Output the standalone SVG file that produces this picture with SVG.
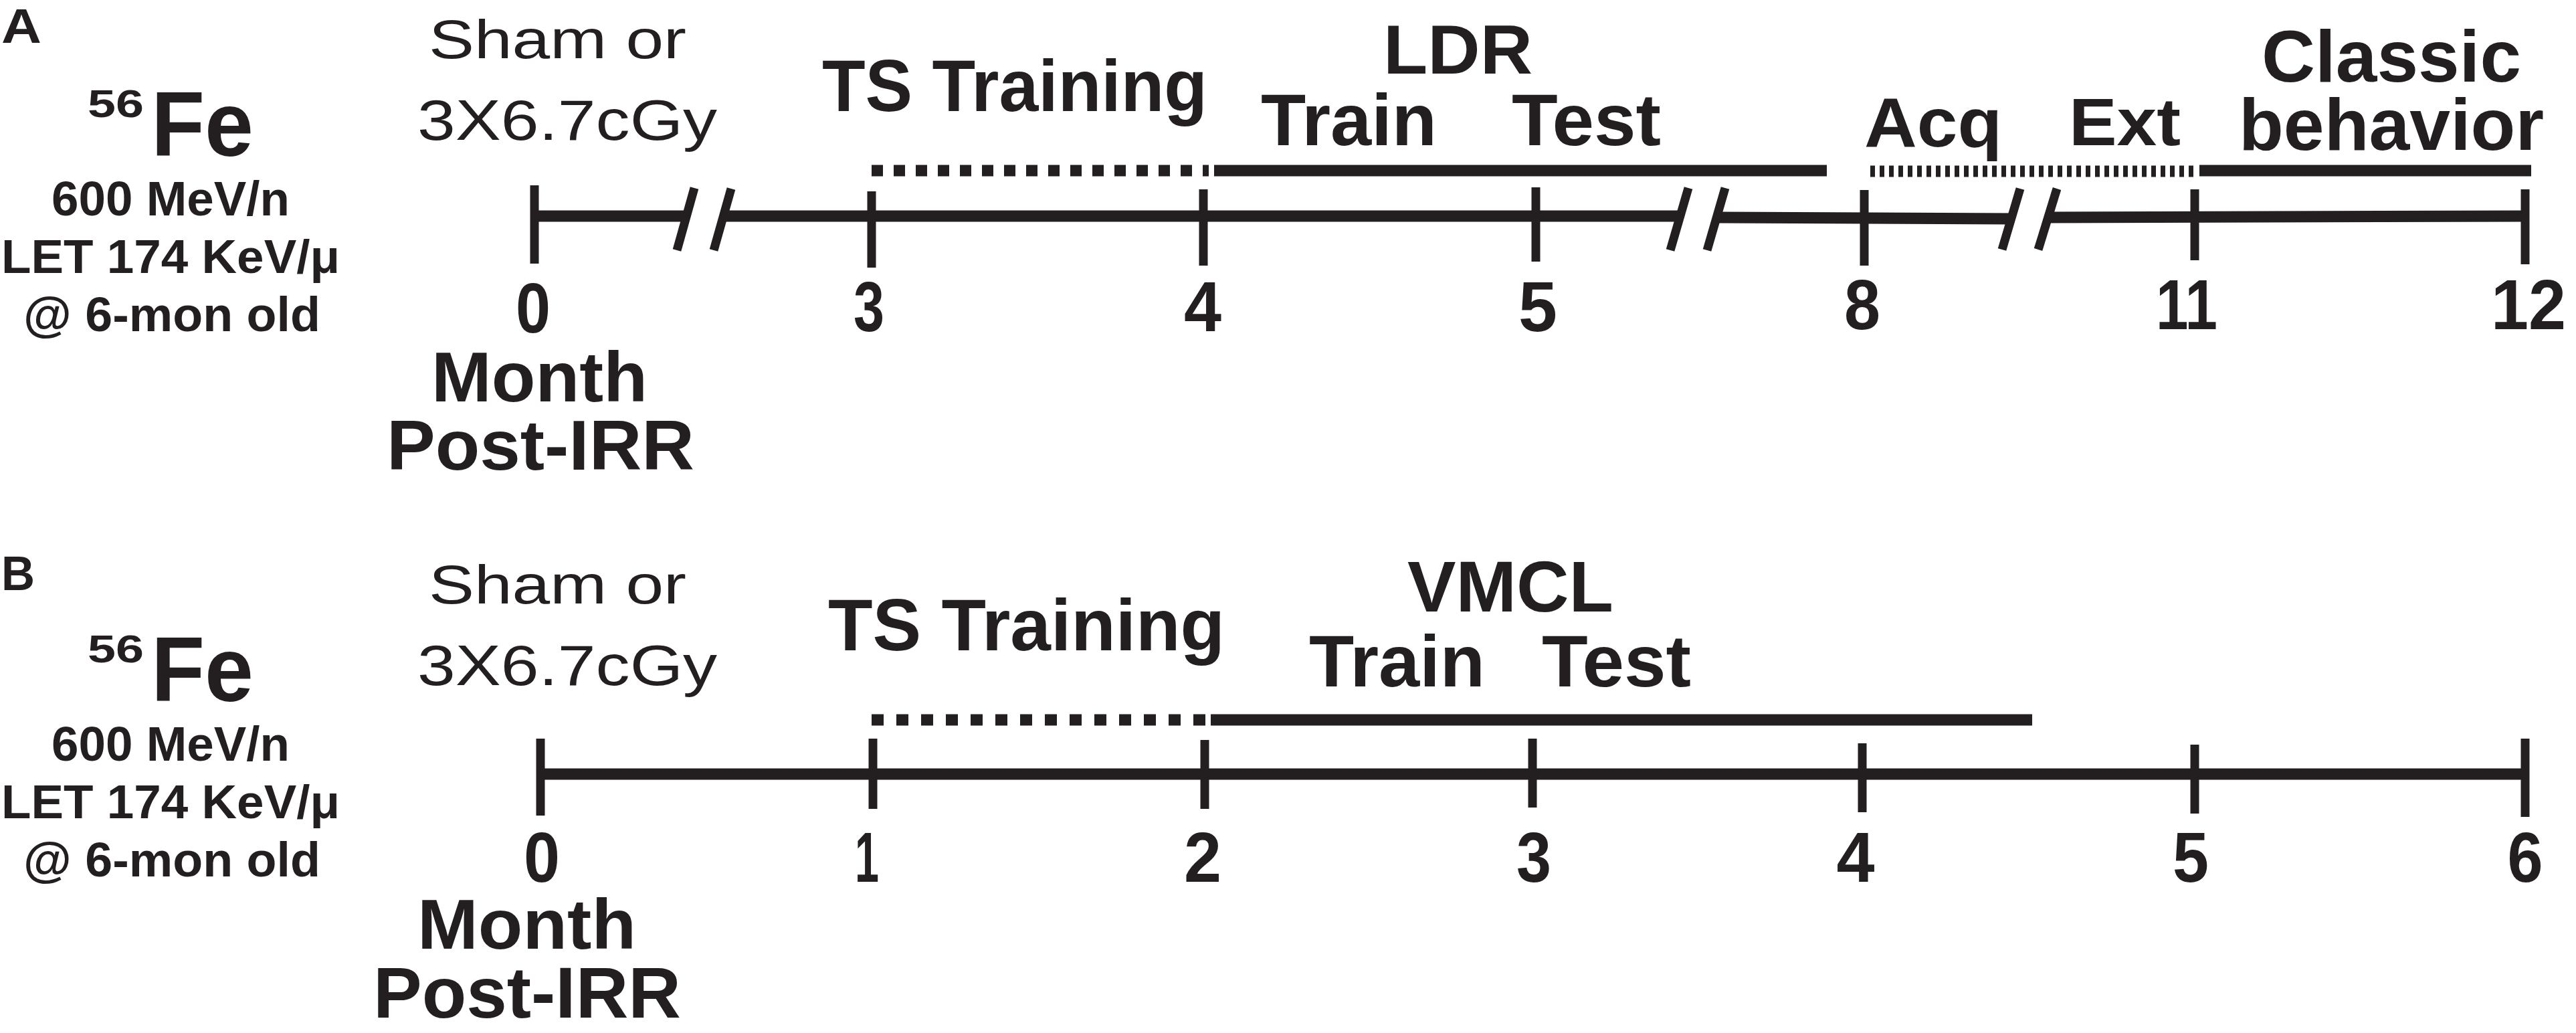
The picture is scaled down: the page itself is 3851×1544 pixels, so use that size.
<svg xmlns="http://www.w3.org/2000/svg" width="3851" height="1544" viewBox="0 0 3851 1544">
<style>
text{font-family:"Liberation Sans",Arial,Helvetica,sans-serif;font-weight:bold;fill:#231f20}
.n{font-weight:normal}
.m{text-anchor:middle}
line{stroke:#231f20;fill:none;stroke-linecap:butt}
.ax{stroke-width:17}
.tk{stroke-width:13}
.sl{stroke-width:13}
.bar{stroke-width:17}
.dA{stroke-dasharray:17 16}
.dB{stroke-dasharray:18 19}
.fine{stroke-dasharray:7 7}
</style>
<rect width="3851" height="1544" fill="#ffffff"/>

<g id="panelA">
  <g id="A-label"><text x="2" y="64" font-size="72" textLength="60" lengthAdjust="spacingAndGlyphs">A</text></g>
  <g id="A-source">
    <text x="131" y="175" font-size="58" textLength="84" lengthAdjust="spacingAndGlyphs">56</text>
    <text x="226" y="233" font-size="137" textLength="153" lengthAdjust="spacingAndGlyphs">Fe</text>
    <text x="77" y="322" font-size="72" textLength="356" lengthAdjust="spacingAndGlyphs">600 MeV/n</text>
    <text x="2" y="408" font-size="71" textLength="506" lengthAdjust="spacingAndGlyphs">LET 174 KeV/μ</text>
    <text x="35" y="495" font-size="72" textLength="444" lengthAdjust="spacingAndGlyphs">@ 6-mon old</text>
  </g>
  <g id="A-dose">
    <text class="n" x="641" y="87" font-size="82" textLength="385" lengthAdjust="spacingAndGlyphs">Sham or</text>
    <text class="n" x="624" y="209" font-size="85" textLength="448" lengthAdjust="spacingAndGlyphs">3X6.7cGy</text>
  </g>
  <g id="A-unit">
    <text x="645" y="600" font-size="105" textLength="323" lengthAdjust="spacingAndGlyphs">Month</text>
    <text x="578" y="702" font-size="105" textLength="460" lengthAdjust="spacingAndGlyphs">Post-IRR</text>
  </g>
  <g id="A-phases">
    <text x="1229" y="166" font-size="110" textLength="576" lengthAdjust="spacingAndGlyphs">TS Training</text>
    <text x="2068" y="110" font-size="103" textLength="223" lengthAdjust="spacingAndGlyphs">LDR</text>
    <text x="1885" y="217" font-size="110" textLength="263" lengthAdjust="spacingAndGlyphs">Train</text>
    <text x="2260" y="217" font-size="110" textLength="223" lengthAdjust="spacingAndGlyphs">Test</text>
    <text x="2787" y="219" font-size="103" textLength="206" lengthAdjust="spacingAndGlyphs">Acq</text>
    <text x="3093" y="217" font-size="100" textLength="167" lengthAdjust="spacingAndGlyphs">Ext</text>
    <text x="3381" y="122" font-size="110" textLength="388" lengthAdjust="spacingAndGlyphs">Classic</text>
    <text x="3347" y="224" font-size="110" textLength="456" lengthAdjust="spacingAndGlyphs">behavior</text>
  </g>
  <g id="A-ticklabels">
    <text class="m" x="797" y="497" font-size="106" textLength="52" lengthAdjust="spacingAndGlyphs">0</text>
    <text class="m" x="1299" y="495" font-size="106" textLength="46" lengthAdjust="spacingAndGlyphs">3</text>
    <text class="m" x="1798" y="495" font-size="106" textLength="56" lengthAdjust="spacingAndGlyphs">4</text>
    <text class="m" x="2299" y="495" font-size="106" textLength="58" lengthAdjust="spacingAndGlyphs">5</text>
    <text class="m" x="2784" y="492" font-size="106" textLength="54" lengthAdjust="spacingAndGlyphs">8</text>
    <text class="m" x="3269" y="492" font-size="106" textLength="92" lengthAdjust="spacingAndGlyphs">11</text>
    <text class="m" x="3780" y="492" font-size="106" textLength="112" lengthAdjust="spacingAndGlyphs">12</text>
  </g>
</g>

<g id="panelB">
  <g id="B-label"><text x="2" y="882" font-size="72" textLength="50" lengthAdjust="spacingAndGlyphs">B</text></g>
  <g id="B-source">
    <text x="131" y="990" font-size="58" textLength="84" lengthAdjust="spacingAndGlyphs">56</text>
    <text x="226" y="1048" font-size="137" textLength="153" lengthAdjust="spacingAndGlyphs">Fe</text>
    <text x="77" y="1137" font-size="72" textLength="356" lengthAdjust="spacingAndGlyphs">600 MeV/n</text>
    <text x="2" y="1223" font-size="71" textLength="506" lengthAdjust="spacingAndGlyphs">LET 174 KeV/μ</text>
    <text x="35" y="1310" font-size="72" textLength="444" lengthAdjust="spacingAndGlyphs">@ 6-mon old</text>
  </g>
  <g id="B-dose">
    <text class="n" x="641" y="902" font-size="82" textLength="385" lengthAdjust="spacingAndGlyphs">Sham or</text>
    <text class="n" x="624" y="1024" font-size="85" textLength="448" lengthAdjust="spacingAndGlyphs">3X6.7cGy</text>
  </g>
  <g id="B-unit">
    <text x="624" y="1418" font-size="105" textLength="327" lengthAdjust="spacingAndGlyphs">Month</text>
    <text x="558" y="1521" font-size="108" textLength="460" lengthAdjust="spacingAndGlyphs">Post-IRR</text>
  </g>
  <g id="B-phases">
    <text x="1238" y="972" font-size="110" textLength="593" lengthAdjust="spacingAndGlyphs">TS Training</text>
    <text x="2104" y="914" font-size="108" textLength="308" lengthAdjust="spacingAndGlyphs">VMCL</text>
    <text x="1957" y="1026" font-size="110" textLength="263" lengthAdjust="spacingAndGlyphs">Train</text>
    <text x="2305" y="1026" font-size="110" textLength="223" lengthAdjust="spacingAndGlyphs">Test</text>
  </g>
  <g id="B-ticklabels">
    <text class="m" x="810" y="1318" font-size="106" textLength="54" lengthAdjust="spacingAndGlyphs">0</text>
    <text class="m" x="1296" y="1318" font-size="106" textLength="36" lengthAdjust="spacingAndGlyphs">1</text>
    <text class="m" x="1798" y="1318" font-size="106" textLength="56" lengthAdjust="spacingAndGlyphs">2</text>
    <text class="m" x="2293" y="1318" font-size="106" textLength="52" lengthAdjust="spacingAndGlyphs">3</text>
    <text class="m" x="2774" y="1318" font-size="106" textLength="57" lengthAdjust="spacingAndGlyphs">4</text>
    <text class="m" x="3275" y="1318" font-size="106" textLength="54" lengthAdjust="spacingAndGlyphs">5</text>
    <text class="m" x="3775" y="1318" font-size="106" textLength="53" lengthAdjust="spacingAndGlyphs">6</text>
  </g>
</g>

<g id="connectors">
  <g id="A-axis">
    <line class="ax" x1="799" y1="323" x2="1026" y2="323"/>
    <line class="ax" x1="1081" y1="323" x2="2511" y2="323"/>
    <line class="ax" x1="2566" y1="325" x2="3007" y2="327"/>
    <line class="ax" x1="3061" y1="325" x2="3775" y2="323"/>
    <line class="sl" x1="1012" y1="374" x2="1038" y2="281"/>
    <line class="sl" x1="1067" y1="374" x2="1093" y2="282"/>
    <line class="sl" x1="2497" y1="374" x2="2524" y2="281"/>
    <line class="sl" x1="2552" y1="374" x2="2579" y2="281"/>
    <line class="sl" x1="2993" y1="373" x2="3020" y2="282"/>
    <line class="sl" x1="3047" y1="373" x2="3075" y2="282"/>
    <line class="tk" x1="799" y1="277" x2="799" y2="394"/>
    <line class="tk" x1="1303" y1="286" x2="1303" y2="400"/>
    <line class="tk" x1="1799" y1="283" x2="1799" y2="397"/>
    <line class="tk" x1="2296" y1="280" x2="2296" y2="391"/>
    <line class="tk" x1="2787" y1="284" x2="2787" y2="397"/>
    <line class="tk" x1="3281" y1="283" x2="3281" y2="389"/>
    <line class="tk" x1="3775" y1="283" x2="3775" y2="395"/>
  </g>
  <g id="A-bars">
    <line class="bar dA" x1="1303" y1="255" x2="1807" y2="255"/>
    <line class="bar" x1="1815" y1="255" x2="2731" y2="255"/>
    <line class="bar fine" x1="2796" y1="256" x2="3284" y2="256"/>
    <line class="bar" x1="3288" y1="255" x2="3784" y2="255"/>
  </g>
  <g id="B-axis">
    <line class="ax" x1="808" y1="1157" x2="3775" y2="1157"/>
    <line class="tk" x1="808" y1="1104" x2="808" y2="1219"/>
    <line class="tk" x1="1305" y1="1104" x2="1305" y2="1209"/>
    <line class="tk" x1="1801" y1="1106" x2="1801" y2="1209"/>
    <line class="tk" x1="2291" y1="1104" x2="2291" y2="1207"/>
    <line class="tk" x1="2784" y1="1111" x2="2784" y2="1214"/>
    <line class="tk" x1="3281" y1="1113" x2="3281" y2="1216"/>
    <line class="tk" x1="3775" y1="1104" x2="3775" y2="1221"/>
  </g>
  <g id="B-bars">
    <line class="bar dB" x1="1303" y1="1076" x2="1807" y2="1076"/>
    <line class="bar" x1="1810" y1="1076" x2="3038" y2="1076"/>
  </g>
</g>
</svg>
